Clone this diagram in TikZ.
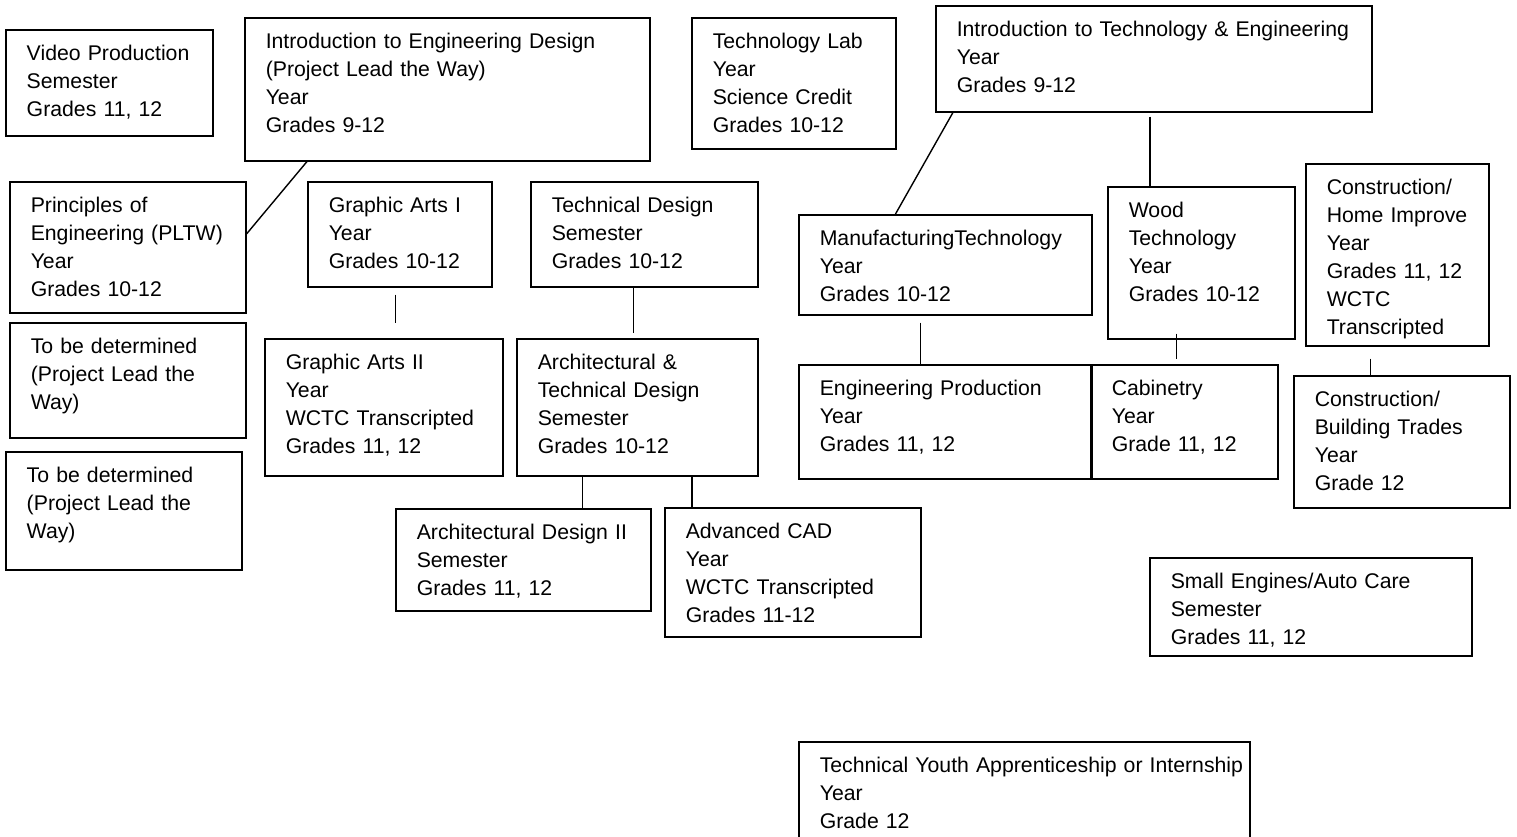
\documentclass[tikz,border=0pt]{standalone}
\usepackage{fontspec}
\setmainfont{Liberation Sans}
\usepackage{tikz}
\usetikzlibrary{calc}
\newcommand{\coursefont}{\fontsize{21.25}{28}\selectfont}
\tikzset{
    course/.style 2 args = {draw, line width=1.5pt, anchor=north west, inner xsep=21pt, inner ysep=0pt, align=left, font=\coursefont, text width=#1, text height=31pt, text depth=#2},
    link/.style = {line width=1.4pt},
}

\begin{document}
\begin{tikzpicture}[x=1pt, y=-1pt]
\useasboundingbox (0,0) rectangle (1517,836);

\node[course={165pt}{75pt}] (video) at (5,29) {Video Production\\Semester\\Grades 11, 12};
\node[course={363pt}{112pt}] (ied) at (244,17) {Introduction to Engineering Design\\(Project Lead the Way)\\Year\\Grades 9-12};
\node[course={162pt}{100pt}] (techlab) at (691,17) {Technology Lab\\Year\\Science Credit\\Grades 10-12};
\node[course={394pt}{75pt}] (ite) at (935,5) {Introduction to Technology \& Engineering\\Year\\Grades 9-12};
\node[course={194pt}{100pt}] (poe) at (9,181) {Principles of\\Engineering (PLTW)\\Year\\Grades 10-12};
\node[course={142pt}{74pt}] (ga1) at (307,181) {Graphic Arts I\\Year\\Grades 10-12};
\node[course={185pt}{74pt}] (td) at (530,181) {Technical Design\\Semester\\Grades 10-12};
\node[course={251pt}{69pt}] (mfg) at (798,214) {ManufacturingTechnology\\Year\\Grades 10-12};
\node[course={145pt}{121pt}] (wood) at (1107,186) {Wood\\Technology\\Year\\Grades 10-12};
\node[course={141pt}{151pt}] (chome) at (1305,163) {Construction/\\\mbox{Home Improve}\\Year\\Grades 11, 12\\WCTC\\Transcripted};
\node[course={194pt}{84pt}] (tbd1) at (9,322) {To be determined\\(Project Lead the\\Way)};
\node[course={194pt}{87pt}] (tbd2) at (5,451) {To be determined\\(Project Lead the\\Way)};
\node[course={196pt}{106pt}] (ga2) at (264,338) {Graphic Arts II\\Year\\WCTC Transcripted\\Grades 11, 12};
\node[course={199pt}{106pt}] (atd) at (516,338) {Architectural \&\\Technical Design\\Semester\\Grades 10-12};
\node[course={251pt}{83pt}] (engprod) at (798,364) {Engineering Production\\Year\\Grades 11, 12};
\node[course={145pt}{83pt}] (cab) at (1090,364) {Cabinetry\\Year\\Grade 11, 12};
\node[course={174pt}{101pt}] (cbuild) at (1293,375) {Construction/\\Building Trades\\Year\\Grade 12};
\node[course={213pt}{71pt}] (ad2) at (395,508) {Architectural Design II\\Semester\\Grades 11, 12};
\node[course={214pt}{98pt}] (cad) at (664,507) {Advanced CAD\\Year\\WCTC Transcripted\\Grades 11-12};
\node[course={280pt}{67pt}] (small) at (1149,557) {Small Engines/Auto Care\\Semester\\Grades 11, 12};
\node[course={409pt}{84pt}] (youth) at (798,741) {\mbox{Technical Youth Apprenticeship or Internship}\\Year\\Grade 12};

\draw[link] ($(ied.south west)!0.155!(ied.south east)$) -- ($(poe.north east)!0.4!(poe.south east)$);
\draw[link, shorten <=7pt, shorten >=15pt] ($(ga1.south west)!0.478!(ga1.south east)$) coordinate (ga1s) -- (ga1s |- ga2.north);
\draw[link, shorten >=5pt] ($(td.south west)!0.454!(td.south east)$) coordinate (tds) -- (tds |- atd.north);
\draw[link] ($(atd.south west)!0.274!(atd.south east)$) coordinate (atds) -- (atds |- ad2.north);
\draw[link] ($(atd.south west)!0.726!(atd.south east)$) coordinate (atdc) -- (atdc |- cad.north);
\draw[link] ($(ite.south west)!0.041!(ite.south east)$) -- ($(mfg.north west)!0.331!(mfg.north east)$);
\draw[link, shorten <=4pt] ($(ite.south west)!0.491!(ite.south east)$) coordinate (ites) -- (ites |- wood.north);
\draw[link, shorten <=7pt] ($(mfg.south west)!0.416!(mfg.south east)$) coordinate (mfgs) -- (mfgs |- engprod.north);
\draw[link, shorten <=-6pt, shorten >=5pt] ($(wood.south west)!0.369!(wood.south east)$) coordinate (woods) -- (woods |- cab.north);
\draw[link, shorten <=12pt] ($(chome.south west)!0.355!(chome.south east)$) coordinate (chomes) -- (chomes |- cbuild.north);
\end{tikzpicture}
\end{document}
